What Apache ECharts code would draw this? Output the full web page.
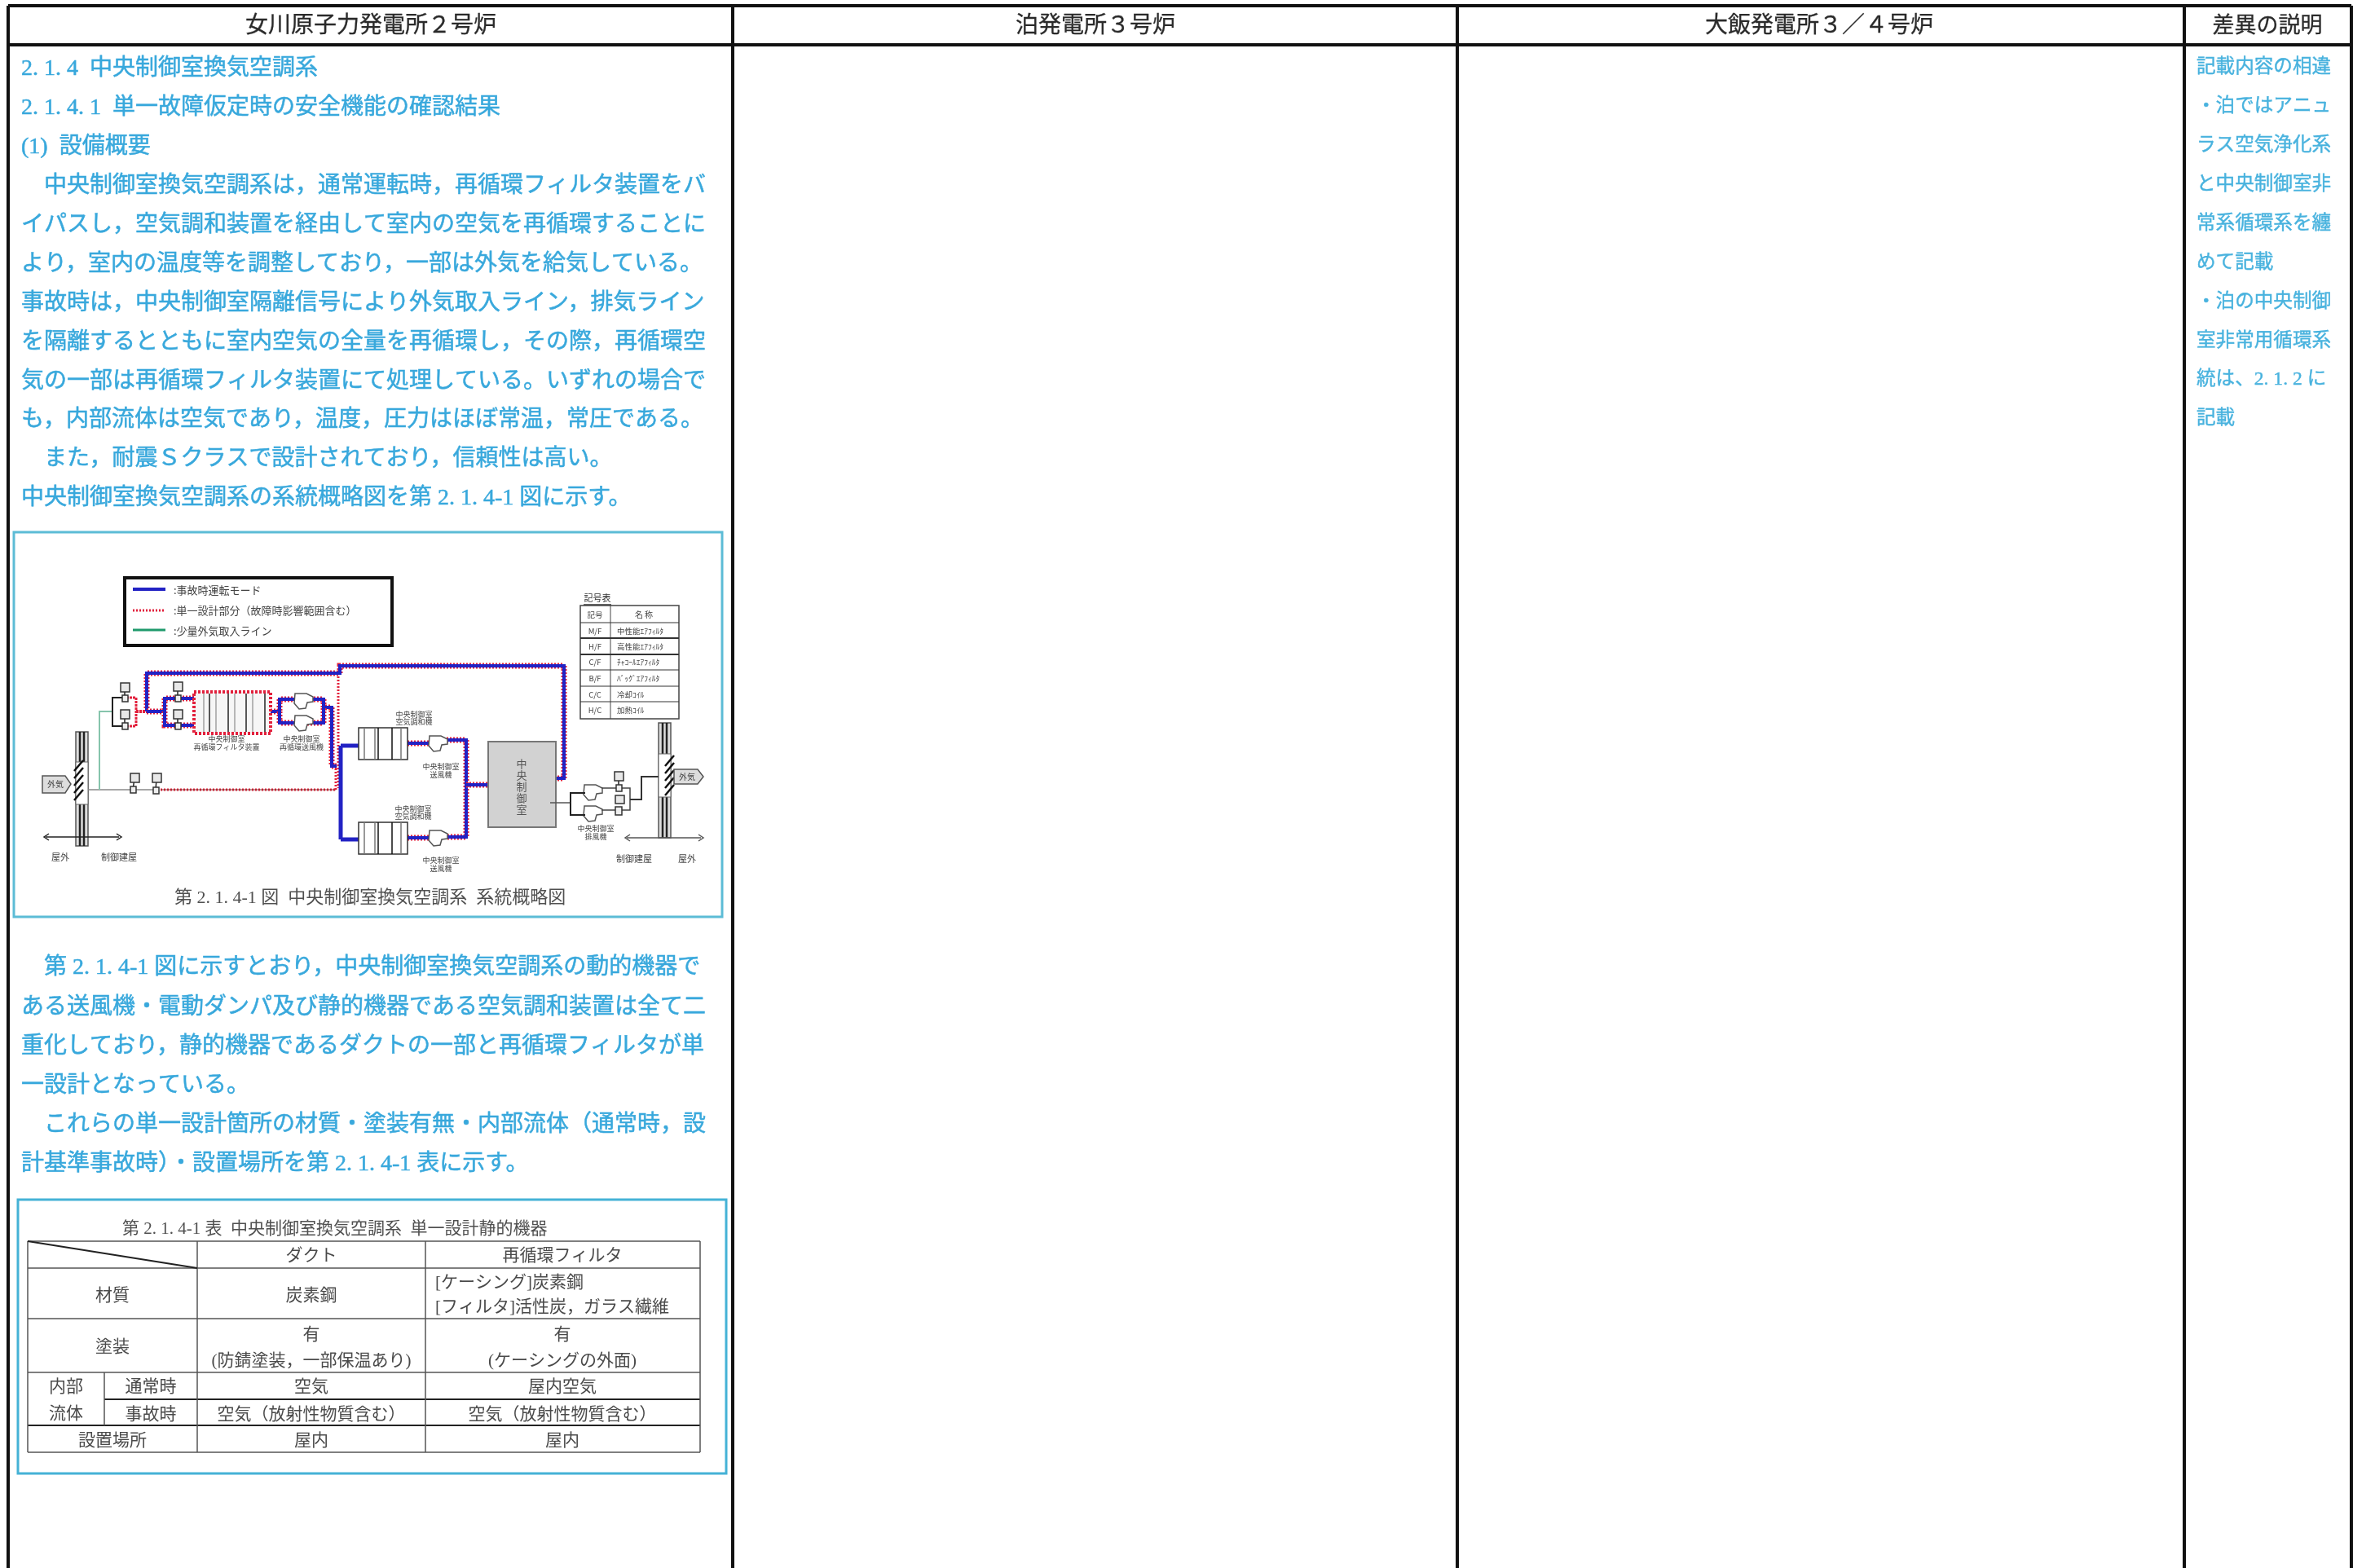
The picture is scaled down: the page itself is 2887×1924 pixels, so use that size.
<!DOCTYPE html>
<html><head><meta charset="utf-8">
<style>html,body{margin:0;background:#fff}#c{width:2887px;height:1924px;filter:blur(0.55px)}</style>
<script src="https://cdn.jsdelivr.net/npm/echarts@6/dist/echarts.min.js"></script>
</head><body><div id="c"></div>
<script>
// ---- document text ----
const headers = ['女川原子力発電所２号炉','泊発電所３号炉','大飯発電所３／４号炉','差異の説明'];
const bodyHeadings = ['2. 1. 4  中央制御室換気空調系','2. 1. 4. 1  単一故障仮定時の安全機能の確認結果','(1)  設備概要'];
const bodyPara1 = [
 '　中央制御室換気空調系は，通常運転時，再循環フィルタ装置をバ',
 'イパスし，空気調和装置を経由して室内の空気を再循環することに',
 'より，室内の温度等を調整しており，一部は外気を給気している。',
 '事故時は，中央制御室隔離信号により外気取入ライン，排気ライン',
 'を隔離するとともに室内空気の全量を再循環し，その際，再循環空',
 '気の一部は再循環フィルタ装置にて処理している。いずれの場合で',
 'も，内部流体は空気であり，温度，圧力はほぼ常温，常圧である。',
 '　また，耐震Ｓクラスで設計されており，信頼性は高い。',
 '中央制御室換気空調系の系統概略図を第 2. 1. 4-1 図に示す。'];
const bodyPara2 = [
 '　第 2. 1. 4-1 図に示すとおり，中央制御室換気空調系の動的機器で',
 'ある送風機・電動ダンパ及び静的機器である空気調和装置は全て二',
 '重化しており，静的機器であるダクトの一部と再循環フィルタが単',
 '一設計となっている。',
 '　これらの単一設計箇所の材質・塗装有無・内部流体（通常時，設',
 '計基準事故時）・設置場所を第 2. 1. 4-1 表に示す。'];
const noteLines = ['記載内容の相違','・泊ではアニュ','ラス空気浄化系','と中央制御室非','常系循環系を纏','めて記載','・泊の中央制御','室非常用循環系','統は、2. 1. 2 に','記載'];
const figCaption = '第 2. 1. 4-1 図  中央制御室換気空調系  系統概略図';
const legendLabels = [':事故時運転モード',':単一設計部分（故障時影響範囲含む）',':少量外気取入ライン'];
const symbolTitle = '記号表';
const symbolRows = [['記号','名 称'],['M/F','中性能ｴｱﾌｨﾙﾀ'],['H/F','高性能ｴｱﾌｨﾙﾀ'],['C/F','ﾁｬｺｰﾙｴｱﾌｨﾙﾀ'],['B/F','ﾊﾞｯｸﾞｴｱﾌｨﾙﾀ'],['C/C','冷却ｺｲﾙ'],['H/C','加熱ｺｲﾙ']];
const tableTitle = '第 2. 1. 4-1 表  中央制御室換気空調系  単一設計静的機器';
const tableHead = ['ダクト','再循環フィルタ'];
const materialRow = ['材質','炭素鋼','[ケーシング]炭素鋼','[フィルタ]活性炭，ガラス繊維'];
const coatingRow = ['塗装','有','(防錆塗装，一部保温あり)','有','(ケーシングの外面)'];
const fluidRow = ['内部','流体','通常時','事故時','空気','屋内空気','空気（放射性物質含む）','空気（放射性物質含む）'];
const placeRow = ['設置場所','屋内','屋内'];

// ---- drawing helpers (page units on a hidden axis pair) ----
const items = [];
const FONT = '"Liberation Serif","Noto Sans CJK JP"';
const SANS = '"Noto Sans CJK JP"';
const T = (x,y,s,size,fill,align='left',family=FONT,heavy=0) => items.push({k:'t',x,y,s,size,fill,align,family,heavy});
const L = (pts,stroke,w=1,dash=null) => items.push({k:'l',pts,stroke,w,dash});
const R = (x,y,w,h,fill,stroke,lw=1,dash=null) => items.push({k:'r',x,y,w,h,fill,stroke,lw,dash});
const P = (pts,fill,stroke,lw=1) => items.push({k:'p',pts,fill,stroke,lw});
const BLUE='#2222c4', RED='#e2203c';
const D = (pts,w=4) => { L(pts,RED,w+3,[2,2]); L(pts,BLUE,w); };

// page frame
const INK='#111', CY='#38a8dc', CY2='#48b2de', GR='#505050';
const colX=[10,899,1788,2680,2885];
L([[colX[0],7],[colX[4],7]],INK,4);
L([[colX[0],55],[colX[4],55]],INK,4);
colX.forEach(x=>L([[x,7],[x,1924]],INK,4));
const headCx=[455,1344,2232,2782];
headers.forEach((h,i)=>T(headCx[i],33,h,i==3?27:28,'#2a2a2a','center',FONT,0.3));

// body text
const bodyTop=85, lineStep=47.9;
bodyHeadings.concat(bodyPara1).forEach((s,i)=>T(26,bodyTop+i*lineStep,s,28,CY,'left',FONT,0.5));
bodyPara2.forEach((s,i)=>T(26,1188+i*48.2,s,28,CY,'left',FONT,0.5));
noteLines.forEach((s,i)=>T(2695,83+i*47.9,s,23.6,CY2,'left',FONT,0.4));

// figure box
R(17,653,869,472,null,'#5cbcd6',3);
T(214,1102,figCaption,22,GR);

// legend
R(153,709,328,83,'#fff','#111',4);
L([[163,723],[203,723]],BLUE,4);
L([[163,749],[203,749]],RED,3,[2,2]);
L([[163,773],[203,773]],'#1f9a6c',3);
[724,749,774].forEach((y,i)=>T(213,y,legendLabels[i],13,'#444','left',SANS));

// symbol table
T(733,734,symbolTitle,11,'#333','center',SANS);
L([[716,742],[750,742]],'#333',1.5);
R(712,743,121,139,null,'#444',1.5);
L([[749,743],[749,882]],'#444',1);
[764,783,803,822,842,861].forEach((y,i)=>L([[712,y],[833,y]],'#333',(i==1||i==2)?2:1));
const symY=[754,774,793,812,832,852,871];
symbolRows.forEach((r,i)=>{T(730,symY[i],r[0],9.5,'#444','center',SANS);
  T(i?757:790,symY[i],r[1],i?9.5:10,'#444',i?'left':'center',SANS);});

// walls and louvers
function wall(x,y0,y1,m0,m1){
  R(x,y0,15,y1-y0,'#ddd','#555',1.5);
  L([[x+5,y0],[x+5,y1]],'#222',2.5);L([[x+10,y0],[x+10,y1]],'#222',2.5);
  R(x,m0,15,m1-m0,'#fff','#666',1);
}
wall(93,898,1038,935,987);
wall(808,887,1028,925,978);
[946,955,964,973,982].forEach(y=>L([[91,y],[102,y-13]],'#111',2.5));
[940,949,958,967,976].forEach(y=>L([[816,y],[827,y-13]],'#111',2.5));
P([[52,952],[80,952],[87,962],[80,973],[52,973]],'#ddd','#555',1.5);
P([[827,944],[856,944],[863,953],[856,962],[827,962]],'#ddd','#555',1.5);
T(68,962,'外気',10,'#444','center',SANS);
T(843,953,'外気',10,'#444','center',SANS);

// arrows and location labels
L([[56,1027],[146,1027]],'#222',1.5);L([[60,1023],[54,1027],[60,1031]],'#222',1.5);L([[143,1023],[149,1027],[143,1031]],'#222',1.5);
L([[769,1028],[860,1028]],'#555',1.5);L([[773,1024],[767,1028],[773,1032]],'#555',1.5);L([[857,1024],[863,1028],[857,1032]],'#555',1.5);
T(74,1052,'屋外',11,'#444','center',SANS);T(146,1052,'制御建屋',11,'#444','center',SANS);
T(778,1054,'制御建屋',11,'#444','center',SANS);T(843,1054,'屋外',11,'#444','center',SANS);

// intake lines
L([[108,969],[190,969]],'#888',1.5);
L([[122,969],[122,873],[138,873]],'#86c4ac',2);
L([[138,873],[138,856],[155,856]],'#222',2);L([[138,873],[138,891],[155,891]],'#222',2);
L([[155,856],[167,856],[167,891],[155,891]],RED,3,[3,1]);
L([[167,873],[200,873]],RED,4,[3,1]);
L([[197,969],[412,969]],RED,3,[2,2]);L([[197,969],[412,969]],'#8a3030',1);
L([[412,969],[412,940]],RED,3,[2,2]);
L([[415,826],[415,967]],RED,3,[2,2]);

// main ducts
D([[180,873],[180,826],[417,826],[417,817],[692,817],[692,955],[677,955]]);
D([[180,873],[202,873],[202,857],[238,857]]);
D([[202,873],[202,890],[238,890]]);
D([[332,873],[343,873],[343,858],[397,858],[397,868],[407,868],[407,940],[413,940]]);
D([[343,873],[343,887],[397,887],[397,868]]);
L([[418,915],[418,1030]],BLUE,5);
L([[418,915],[440,915]],BLUE,5);
L([[418,1030],[440,1030]],BLUE,5);
D([[500,912],[527,912]]);D([[500,1028],[527,1028]]);
D([[548,908],[572,908],[572,1027],[548,1027]]);
D([[572,963],[598,963]]);

// filter unit
R(238,849,94,51,'#f6f6f6',RED,4,[3,2]);
[250,257,265,280,288,302,310,325].forEach((x,i)=>L([[x,851],[x,898]],i%2?'#222':'#777',i%2?1.5:1));
// air handling units
[[893,39],[1009,39]].forEach(a=>{
  R(440,a[0],60,a[1],'#fff','#333',1.5);
  [447,460,464,481,492].forEach((x,i)=>L([[x,a[0]],[x,a[0]+a[1]]],i==2||i==3?'#111':'#777',1.5));
});
// fans
function fan(cx,cy){P([[cx-10,cy-9],[cx+4,cy-9],[cx+12,cy-5],[cx+12,cy+1],[cx+5,cy+2],[cx+3,cy+9],[cx-5,cy+10],[cx-11,cy+3]],'#fff','#555',1.5);}
fan(372,860);fan(372,887);fan(537,912);fan(537,1028);fan(727,972);fan(727,998);
// dampers and actuators
function damper(x,y,bx,by){L([[x,y],[bx,by]],'#222',1.5);R(x-3,y-4,7,8,'#eee','#333',1.5);R(bx-5,by-6,11,11,'#e8e8e8','#333',1.5);}
damper(153,857,153,844);damper(153,891,153,877);damper(218,857,218,843);damper(218,891,218,877);
damper(163,969,165,955);damper(191,970,192,955);
// central room
R(599,910,83,105,'#d2d2d2','#777',2);
Array.from('中央制御室').forEach((c,i)=>T(640,937+i*14,c,13,'#555','center',SANS));
// exhaust side
L([[675,985],[700,985]],'#555',1.5);
L([[718,973],[700,973],[700,1000],[718,1000]],'#222',2);
L([[738,967],[773,967],[773,994],[738,994]],'#444',1.5);
L([[773,981],[787,981],[787,953],[808,953]],'#333',2);
damper(759,967,759,953);
R(755,990,8,10,'#eee','#333',1.5);R(755,976,11,10,'#e8e8e8','#333',1.5);

// equipment labels
const eqLabels=[[278,907,'中央制御室'],[278,917,'再循環フィルタ装置'],[370,907,'中央制御室'],[370,917,'再循環送風機'],
 [508,877,'中央制御室'],[508,886,'空気調和機'],[507,993,'中央制御室'],[507,1002,'空気調和機'],
 [541,941,'中央制御室'],[541,951,'送風機'],[541,1056,'中央制御室'],[541,1066,'送風機'],
 [731,1017,'中央制御室'],[731,1027,'排風機']];
eqLabels.forEach(e=>T(e[0],e[1],e[2],9,'#444','center',SANS));

// table box
R(22,1472,869,336,null,'#45b2d6',3);
T(150,1508,tableTitle,21,GR);
const rowsY=[1523,1556,1618,1684,1717,1749,1782];
const tl=34,tr=859,c1=128,c2=242,c3=522,tc='#555';
rowsY.forEach((y,i)=>L([[i==4?c1:tl,y],[tr,y]],(i==4||i==5)?'#222':tc,(i==4||i==5)?2:1.5));
[tl,c2,c3,tr].forEach(x=>L([[x,1523],[x,1782]],tc,1.5));
L([[c1,1684],[c1,1749]],tc,1.5);
L([[tl,1523],[c2,1556]],'#222',2);
const tf='#4a4a4a', cA=382, cB=690, cL=138;
T(cA,1541,tableHead[0],21,tf,'center');T(cB,1541,tableHead[1],21,tf,'center');
T(cL,1590,materialRow[0],21,tf,'center');T(cA,1590,materialRow[1],21,tf,'center');
T(534,1574,materialRow[2],21,tf);T(534,1604,materialRow[3],21,tf);
T(cL,1653,coatingRow[0],21,tf,'center');
T(cA,1638,coatingRow[1],21,tf,'center');T(cA,1670,coatingRow[2],21,tf,'center');
T(cB,1638,coatingRow[3],21,tf,'center');T(cB,1670,coatingRow[4],21,tf,'center');
T(81,1702,fluidRow[0],21,tf,'center');T(81,1735,fluidRow[1],21,tf,'center');
T(185,1702,fluidRow[2],21,tf,'center');T(185,1736,fluidRow[3],21,tf,'center');
T(cA,1702,fluidRow[4],21,tf,'center');T(cB,1702,fluidRow[5],21,tf,'center');
T(cA,1736,fluidRow[6],21,tf,'center');T(cB,1736,fluidRow[7],21,tf,'center');
T(cL,1768,placeRow[0],21,tf,'center');T(cA,1768,placeRow[1],21,tf,'center');T(cB,1768,placeRow[2],21,tf,'center');

// ---- chart ----
const chart = echarts.init(document.getElementById('c'),null,{renderer:'canvas',width:2887,height:1924});
chart.setOption({
  animation:false, backgroundColor:'#fff',
  grid:{left:0,right:0,top:0,bottom:0},
  xAxis:{type:'value',min:0,max:2887,show:false},
  yAxis:{type:'value',min:0,max:1924,inverse:true,show:false},
  tooltip:{show:false},
  series:[{
    type:'custom', coordinateSystem:'cartesian2d', silent:true, clip:false,
    data:items.map((_,i)=>[i,0]),
    renderItem(params,api){
      const it=items[params.dataIndex];
      const c=p=>api.coord(p);
      if(it.k==='t'){const p=c([it.x,it.y]);const st={text:it.s,x:p[0],y:p[1],fill:it.fill,fontSize:it.size,fontFamily:it.family,align:it.align,verticalAlign:'middle'};
        if(it.heavy){st.stroke=it.fill;st.lineWidth=it.heavy;}
        return {type:'text',style:st};}
      if(it.k==='l'){return {type:'polyline',shape:{points:it.pts.map(c)},style:{stroke:it.stroke,lineWidth:it.w,lineDash:it.dash,fill:null}};}
      if(it.k==='p'){return {type:'polygon',shape:{points:it.pts.map(c)},style:{fill:it.fill,stroke:it.stroke,lineWidth:it.lw}};}
      const a=c([it.x,it.y]),b=c([it.x+it.w,it.y+it.h]);
      return {type:'rect',shape:{x:a[0],y:a[1],width:b[0]-a[0],height:b[1]-a[1]},style:{fill:it.fill||'transparent',stroke:it.stroke,lineWidth:it.lw,lineDash:it.dash}};
    }
  }]
});
</script></body></html>
